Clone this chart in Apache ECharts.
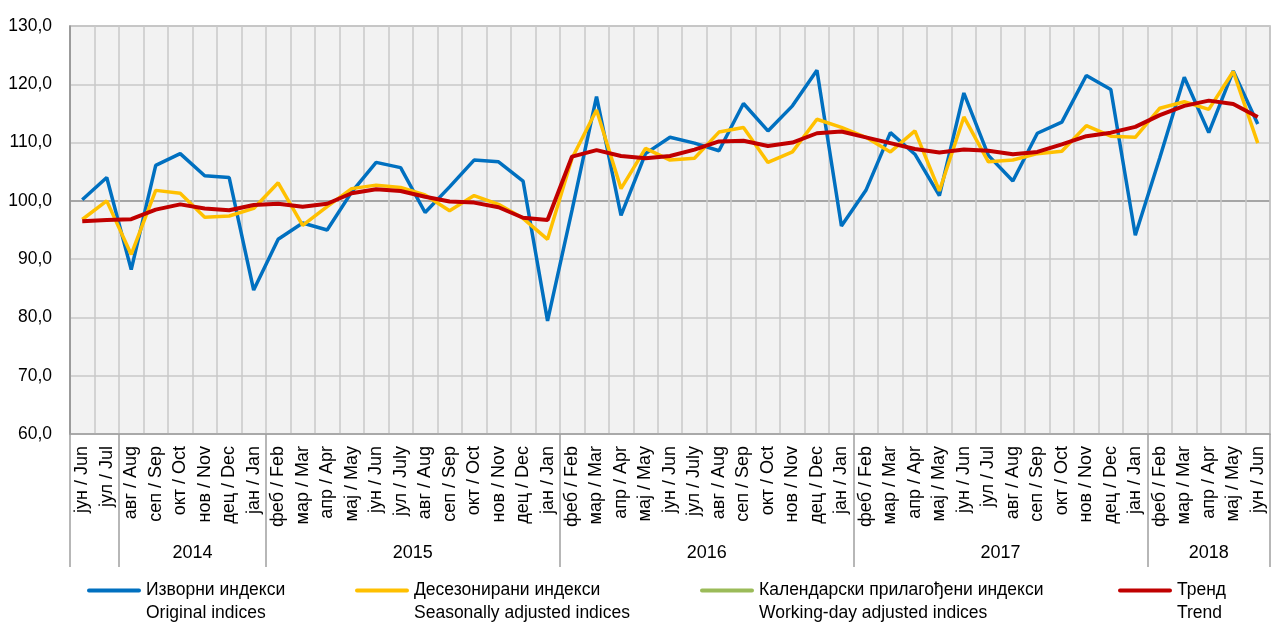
<!DOCTYPE html>
<html>
<head>
<meta charset="utf-8">
<script src="https://cdn.jsdelivr.net/npm/echarts@6/dist/echarts.min.js"></script>
<style>
html,body{margin:0;padding:0;background:#fff;}
#main{width:1281px;height:643px;}
</style>
</head>
<body>
<div id="main"></div>
<script>
// месеци / months
var months = [
	'јун / Jun','јул / Jul','авг / Aug','сеп / Sep','окт / Oct','нов / Nov','дец / Dec',
	'јан / Jan','феб / Feb','мар / Mar','апр / Apr','мај / May','јун / Jun','јул / July','авг / Aug','сеп / Sep','окт / Oct','нов / Nov','дец / Dec',
	'јан / Jan','феб / Feb','мар / Mar','апр / Apr','мај / May','јун / Jun','јул / July','авг / Aug','сеп / Sep','окт / Oct','нов / Nov','дец / Dec',
	'јан / Jan','феб / Feb','мар / Mar','апр / Apr','мај / May','јун / Jun','јул / Jul','авг / Aug','сеп / Sep','окт / Oct','нов / Nov','дец / Dec',
	'јан / Jan','феб / Feb','мар / Mar','апр / Apr','мај / May','јун / Jun'
];
// years and where their groups start/end (in category units)
var years = ['2014','2015','2016','2017','2018'];
var yearBounds = [0, 2, 8, 20, 32, 44, 49];

var original = [100.2,104.0,88.2,106.1,108.1,104.3,104.0,84.7,93.4,96.2,95.0,101.5,106.6,105.7,98.0,102.4,107.0,106.7,103.4,79.4,
	98.4,117.9,97.5,108.1,110.9,109.9,108.6,116.7,112.0,116.3,122.4,95.7,101.8,111.7,108.0,100.9,118.5,107.8,103.4,111.6,
	113.5,121.5,119.1,94.1,107.4,121.2,111.7,122.3,113.2];
var seasonal = [96.8,100.0,90.8,101.8,101.3,97.2,97.4,98.7,103.1,95.8,99.0,102.1,102.7,102.3,101.0,98.3,100.9,99.4,97.0,93.4,
	107.3,115.6,102.1,109.0,107.0,107.3,111.8,112.6,106.6,108.4,114.0,112.6,110.9,108.4,112.0,101.7,114.4,106.7,107.0,108.1,
	108.5,112.9,111.1,110.9,115.9,117.0,115.7,122.2,109.9];
var workingDay = [];
var trend = [96.5,96.7,96.85,98.5,99.4,98.7,98.4,99.3,99.5,99.0,99.5,101.3,102.0,101.7,100.7,99.9,99.7,98.9,97.1,96.7,
	107.6,108.7,107.7,107.3,107.7,108.8,110.2,110.3,109.4,110.0,111.6,111.9,110.9,109.9,108.9,108.3,108.8,108.6,108.0,108.4,
	109.7,111.1,111.7,112.7,114.7,116.3,117.2,116.6,114.4];

var seriesNames = ['Изворни индекси','Десезонирани индекси','Календарски прилагођени индекси','Тренд'];
var seriesNamesEn = ['Original indices','Seasonally adjusted indices','Working-day adjusted indices','Trend'];
var colors = ['#0070c0','#ffc000','#9bbb59','#c00000'];
var legendLeft = [82, 350, 695, 1113];

var FONT = "'Liberation Sans Narrow','Arial Narrow','Liberation Sans',Arial,sans-serif";

// year label positions = middle of each group
var yearCenters = [];
for (var i = 0; i < years.length; i++) {
	yearCenters.push((yearBounds[i + 1] + yearBounds[i + 2]) / 2);
}

var myChart = echarts.init(document.getElementById('main'));

// line at the top of the box so it sits next to the first text row
var legendIcon = 'path://M2,0H52A2,2 0 0 1 52,4H2A2,2 0 0 1 2,0Z M0,26.9H0.1V27H0Z';

var legends = seriesNames.map(function(name, idx){
	return {
		data: [name],
		left: legendLeft[idx],
		top: 574,
		icon: legendIcon,
		itemWidth: 54,
		itemHeight: 27,
		itemStyle: {borderWidth: 0},
		formatter: function(n){
			return n + '\n' + seriesNamesEn[seriesNames.indexOf(n)];
		},
		textStyle: {fontSize: 17.5, lineHeight: 23, color: '#000', fontFamily: FONT},
		selectedMode: false
	};
});

var gridPos = {left: 70, right: 11, top: 26, bottom: 209};

option = {
	animation: false,
	textStyle: {fontFamily: FONT},
	color: colors,
	legend: legends,
	grid: [
		{left: gridPos.left, right: gridPos.right, top: gridPos.top, bottom: gridPos.bottom,
			show: true, backgroundColor: '#f2f2f2', borderColor: '#b0b0b0', borderWidth: 1.5},
		{left: gridPos.left, right: gridPos.right, top: gridPos.top, bottom: gridPos.bottom, show: false}
	],
	xAxis: [
		{
			type: 'category',
			gridIndex: 0,
			data: months,
			boundaryGap: true,
			axisLine: {show: true, lineStyle: {color: '#a0a0a0', width: 1.5}},
			axisTick: {show: false},
			axisLabel: {interval: 0, rotate: 90, margin: 12, fontSize: 18, color: '#000', fontFamily: FONT},
			splitLine: {show: true, interval: 0, lineStyle: {color: '#c8c8c8', width: 1.5}}
		},
		{
			// year groups
			type: 'value',
			gridIndex: 1,
			min: 0,
			max: 49,
			axisLine: {show: false},
			splitLine: {show: false},
			axisTick: {show: true, length: 133, customValues: yearBounds, lineStyle: {color: '#a0a0a0', width: 1.5}},
			axisLabel: {show: true, margin: 110, fontSize: 18, color: '#000', fontFamily: FONT,
				customValues: yearCenters,
				formatter: function(v){
					var k = yearCenters.indexOf(v);
					return k >= 0 ? years[k] : '';
				}
			}
		}
	],
	yAxis: [
		{
			type: 'value',
			gridIndex: 0,
			min: 60,
			max: 130,
			interval: 10,
			axisLine: {show: true, lineStyle: {color: '#8c8c8c', width: 1.5}},
			axisTick: {show: false},
			axisLabel: {margin: 18, fontSize: 17.5, color: '#000', fontFamily: FONT,
				formatter: function(v){ return v.toFixed(1).replace('.', ','); }
			},
			splitLine: {show: true, lineStyle: {
				color: ['#c8c8c8','#c8c8c8','#c8c8c8','#c8c8c8','#8c8c8c','#c8c8c8','#c8c8c8','#c8c8c8'],
				width: 1.5
			}}
		},
		{type: 'value', gridIndex: 1, show: false, min: 60, max: 130}
	],
	series: [
		{name: seriesNames[0], type: 'line', data: original, symbol: 'none', lineStyle: {width: 3.5, color: colors[0]}, itemStyle: {color: colors[0]}},
		{name: seriesNames[1], type: 'line', data: seasonal, symbol: 'none', lineStyle: {width: 3.5, color: colors[1]}, itemStyle: {color: colors[1]}},
		{name: seriesNames[2], type: 'line', data: workingDay, symbol: 'none', lineStyle: {width: 3.5, color: colors[2]}, itemStyle: {color: colors[2]}},
		{name: seriesNames[3], type: 'line', data: trend, symbol: 'none', lineStyle: {width: 4, color: colors[3]}, itemStyle: {color: colors[3]}}
	]
};

myChart.setOption(option);
</script>
</body>
</html>
